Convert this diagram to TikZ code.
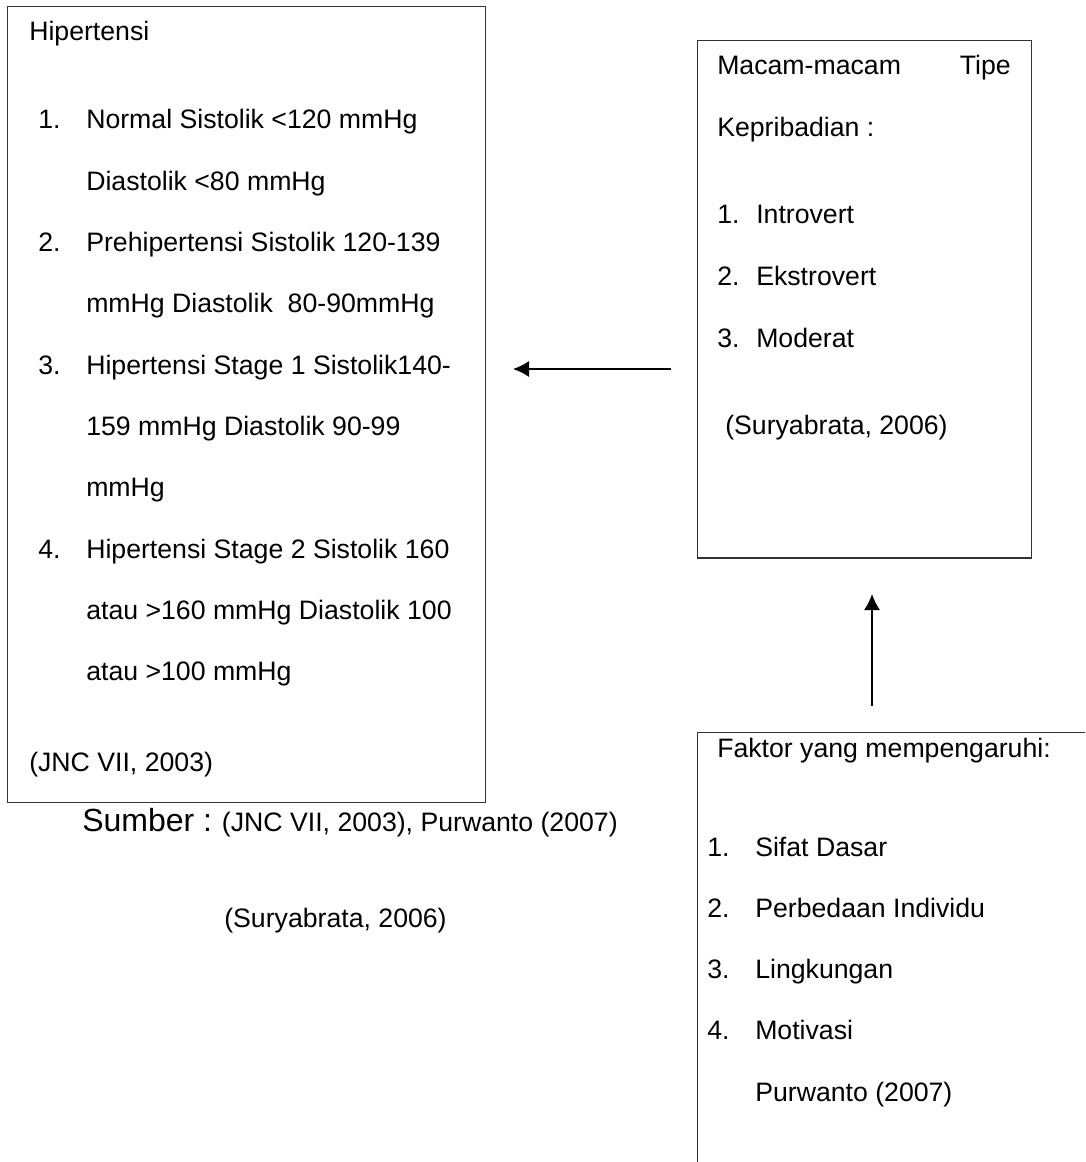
\documentclass[tikz,border=0pt]{standalone}
\usepackage{fontspec}
\setmainfont{Liberation Sans}
\usetikzlibrary{arrows.meta}
\begin{document}
\begin{tikzpicture}[x=0.75pt,y=-0.75pt,
  kotak/.style={draw=black!80,line width=0.9pt,inner sep=0pt,anchor=north west},
  teks/.style={anchor=base west,inner sep=0pt},
  panah/.style={-{Latex[length=12pt,width=12pt]},line width=1.1pt}]
  \fontsize{20}{24}\selectfont
  \useasboundingbox (0,0) rectangle (1085,1162);
  \clip (0,0) rectangle (1085,1162);
  \node[kotak,minimum width=358.5pt,minimum height=597pt] (hipertensi) at (7,6) {};
  \node[kotak,minimum width=250.5pt,minimum height=388pt] (tipe) at (697,40) {};
  \node[kotak,minimum width=380pt,minimum height=380pt] (faktor) at (697,732) {};
  \node[teks] (hjudul) at (29,41) {Hipertensi};
  \node[teks] (hn1) at (38,129) {1.};
  \node[teks] (ha1) at (86,129) {Normal Sistolik <120 mmHg};
  \node[teks] (ha2) at (86,190.3) {Diastolik <80 mmHg};
  \node[teks] (hn2) at (38,251.6) {2.};
  \node[teks] (hb1) at (86,251.6) {Prehipertensi Sistolik 120-139};
  \node[teks] (hb2) at (86,312.9) {mmHg Diastolik \ 80-90mmHg};
  \node[teks] (hn3) at (38,374.2) {3.};
  \node[teks] (hc1) at (86,374.2) {Hipertensi Stage 1 Sistolik140-};
  \node[teks] (hc2) at (86,435.5) {159 mmHg Diastolik 90-99};
  \node[teks] (hc3) at (86,496.8) {mmHg};
  \node[teks] (hn4) at (38,558.1) {4.};
  \node[teks] (hd1) at (86,558.1) {Hipertensi Stage 2 Sistolik 160};
  \node[teks] (hd2) at (86,619.4) {atau >160 mmHg Diastolik 100};
  \node[teks] (hd3) at (86,680.7) {atau >100 mmHg};
  \node[teks] (hsumber) at (29,771) {(JNC VII, 2003)};
  \node[teks] (sumber) at (82,831) {{\fontsize{24}{28}\selectfont Sumber :} (JNC VII, 2003), Purwanto (2007)};
  \node[anchor=base,inner sep=0pt] (sumber2) at (335.5,927) {(Suryabrata, 2006)};
  \node[teks] (tjudul) at (717,75) {Macam-macam};
  \node[anchor=base east,inner sep=0pt] (tjudul2) at (1011,75) {Tipe};
  \node[teks] (tjudul3) at (717,137) {Kepribadian :};
  \node[teks] (tn1) at (717,224) {1.};
  \node[teks] (ta1) at (756,224) {Introvert};
  \node[teks] (tn2) at (717,286) {2.};
  \node[teks] (ta2) at (756,286) {Ekstrovert};
  \node[teks] (tn3) at (717,347) {3.};
  \node[teks] (ta3) at (756,347) {Moderat};
  \node[teks] (tsumber) at (725,434) {(Suryabrata, 2006)};
  \node[teks] (fjudul) at (717,757) {Faktor yang mempengaruhi:};
  \node[teks] (fn1) at (707,856) {1.};
  \node[teks] (fa1) at (755,856) {Sifat Dasar};
  \node[teks] (fn2) at (707,917) {2.};
  \node[teks] (fa2) at (755,917) {Perbedaan Individu};
  \node[teks] (fn3) at (707,978) {3.};
  \node[teks] (fa3) at (755,978) {Lingkungan};
  \node[teks] (fn4) at (707,1039) {4.};
  \node[teks] (fa4) at (755,1039) {Motivasi};
  \node[teks] (fsumber) at (755,1101) {Purwanto (2007)};
  \coordinate (kanan) at (671,369);
  \coordinate (kiri) at (513,369);
  \coordinate (bawah) at (872,706);
  \coordinate (atas) at (872,594);
  \draw[panah] (kanan) -- (kiri);
  \draw[panah] (bawah) -- (atas);
\end{tikzpicture}
\end{document}
